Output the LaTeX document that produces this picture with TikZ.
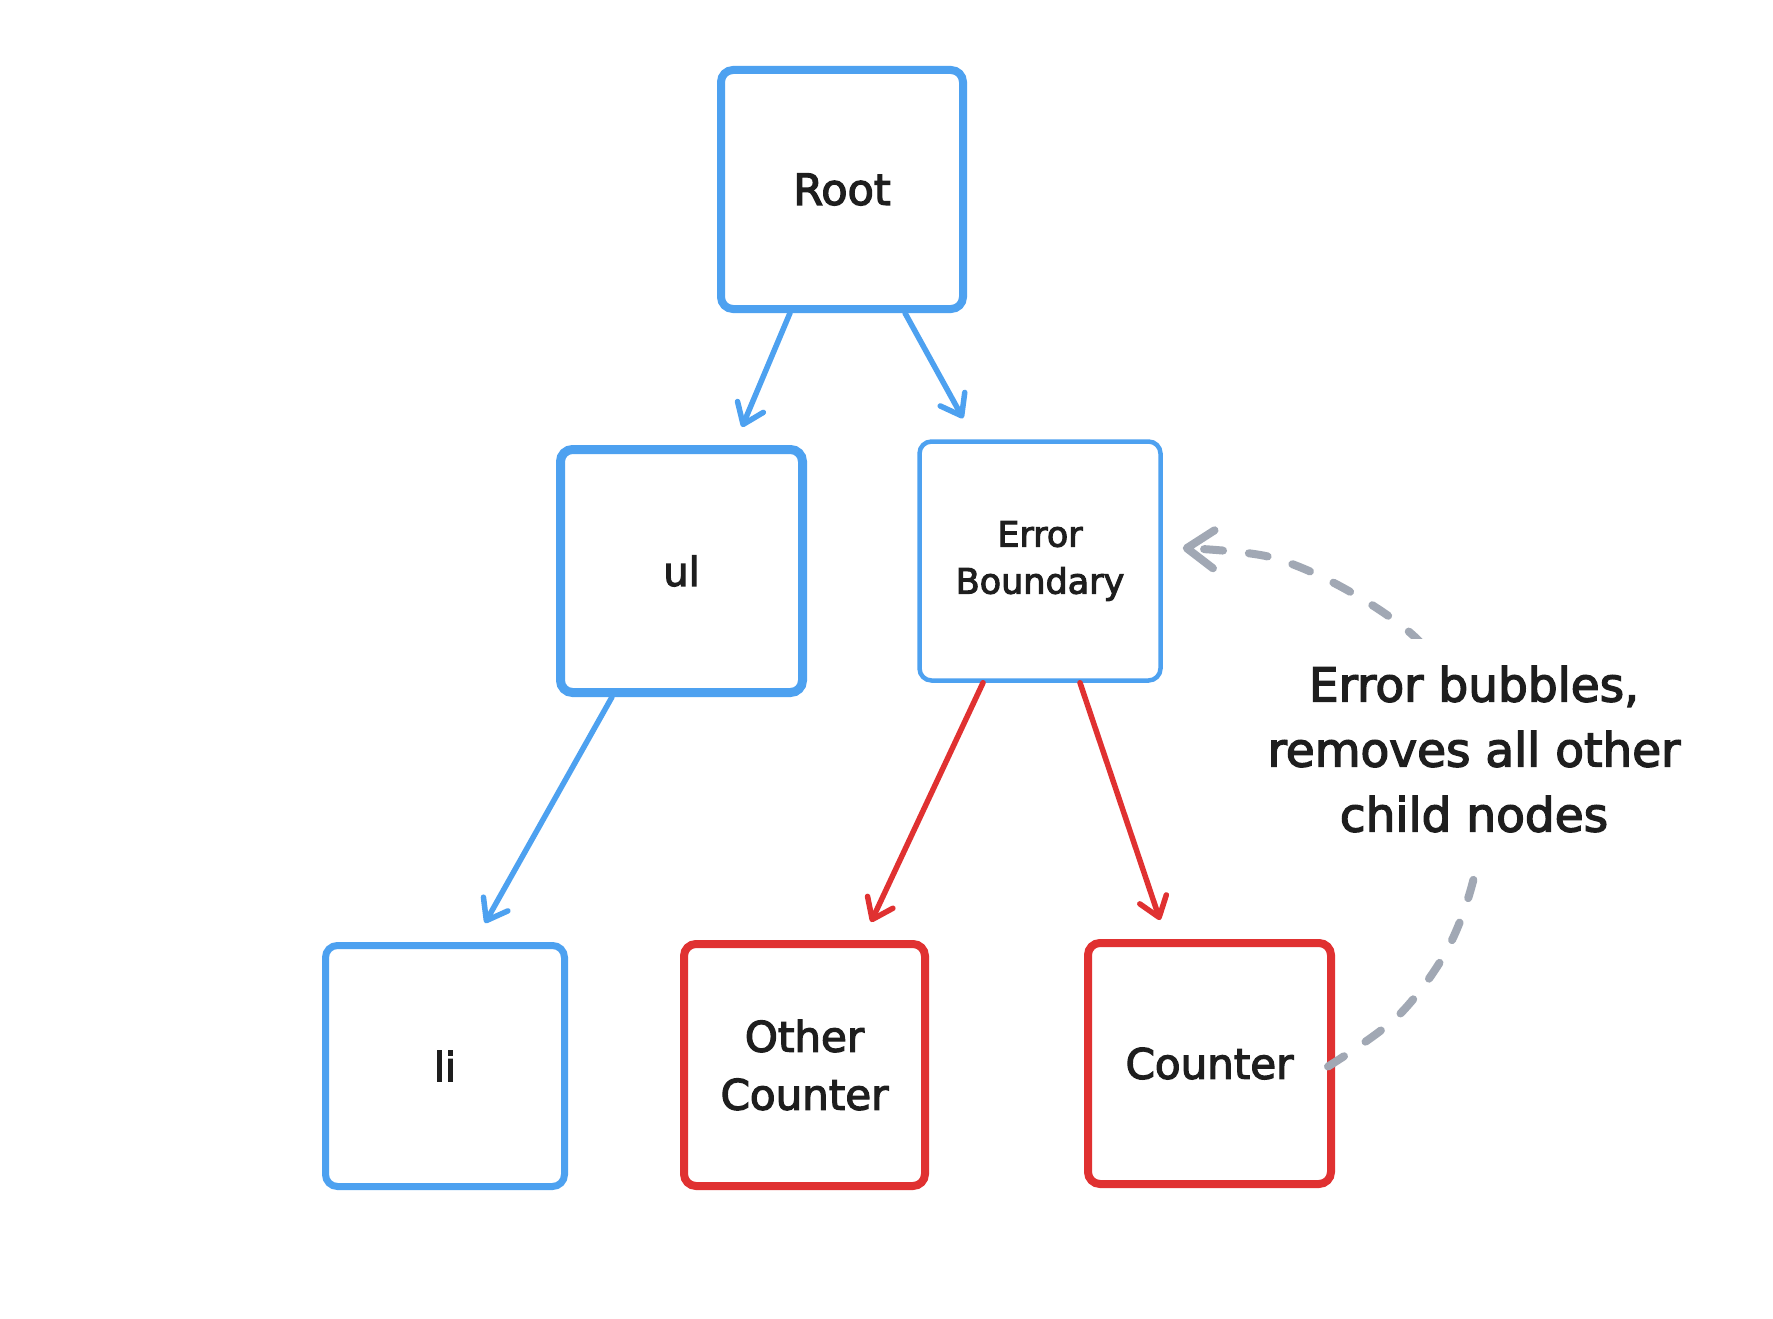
\documentclass[tikz,border=0pt]{standalone}
\usepackage{fontspec}
\newfontfamily\hand[FakeBold=3]{DejaVu Sans}
\usetikzlibrary{arrows.meta}
\definecolor{eblue}{RGB}{77,161,240}
\definecolor{ered}{RGB}{224,49,49}
\definecolor{egray}{RGB}{161,168,180}
\definecolor{etext}{RGB}{30,30,30}
\tikzset{
  box/.style={draw, rounded corners=12pt, fill=white, text=etext, align=center, inner sep=0pt},
  bluebox/.style={box, draw=eblue},
  redbox/.style={box, draw=ered},
  barrow/.style={draw=eblue, line width=5.5pt, line cap=round, line join=round,
     -{Straight Barb[length=19pt,width=28pt,round]}},
  rarrow/.style={draw=ered, line width=5.5pt, line cap=round, line join=round,
     -{Straight Barb[length=19pt,width=28pt,round]}},
  garrow/.style={draw=egray, line width=8pt, line cap=round, line join=round,
     dash pattern=on 19pt off 26pt,
     -{Straight Barb[length=27pt,width=38pt,round]}},
}
\begin{document}
\begin{tikzpicture}[x=1pt,y=-1pt]
\useasboundingbox (0,0) rectangle (1773,1319);
\fill[white] (0,0) rectangle (1773,1319);

\node[bluebox, line width=8pt, minimum width=242pt, minimum height=239pt,
  font=\hand\fontsize{43}{52}\selectfont] (root) at (842,189.5) {Root};
\node[bluebox, line width=9pt, minimum width=242pt, minimum height=243pt,
  font=\hand\fontsize{40}{50}\selectfont] (ul) at (681.5,571) {ul};
\node[bluebox, line width=4.5pt, minimum width=241pt, minimum height=239pt,
  font=\hand\fontsize{35}{47}\selectfont] (eb) at (1040,561) {Error\\Boundary};
\node[bluebox, line width=7pt, minimum width=239pt, minimum height=241pt,
  font=\hand\fontsize{40}{50}\selectfont] (li) at (445,1066) {li};
\node[redbox, line width=8pt, minimum width=241pt, minimum height=242pt,
  font=\hand\fontsize{42}{58}\selectfont] (other) at (804.5,1065) {Other\\Counter};
\node[redbox, line width=8pt, minimum width=243pt, minimum height=241pt,
  font=\hand\fontsize{42}{52}\selectfont] (counter) at (1209.5,1063.5) {Counter};

\draw[barrow] ([xshift=-52pt]root.south) -- ([xshift=60.5pt,yshift=18pt]ul.north);
\draw[barrow] ([xshift=63pt]root.south) -- ([xshift=-77pt,yshift=21pt]eb.north);
\draw[barrow] ([xshift=-69.5pt]ul.south) -- ([xshift=40pt,yshift=19pt]li.north);
\draw[rarrow] ([xshift=-57pt]eb.south) -- ([xshift=66.5pt,yshift=18pt]other.north);
\draw[rarrow] ([xshift=40pt]eb.south) -- ([xshift=-49.5pt,yshift=19pt]counter.north);

\draw[garrow] plot[smooth, tension=0.55] coordinates {([xshift=-7pt,yshift=-3pt]counter.east)
  (1397,1017) (1447,950) (1475,873) (1483,790) (1462,705) (1418,640)
  (1347,590) (1270,557) ([xshift=20pt,yshift=13pt]eb.east)};

\node[fill=white, text=etext, align=center, inner xsep=8pt, inner ysep=27pt,
  font=\hand\fontsize{47}{65}\selectfont] (note) at (1474,749)
  {Error bubbles,\\removes all other\\child nodes};
\end{tikzpicture}
\end{document}
